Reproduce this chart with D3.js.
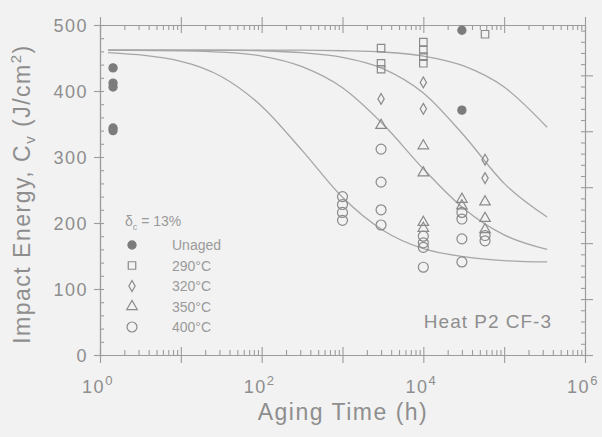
<!DOCTYPE html>
<html>
<head>
<meta charset="utf-8">
<script src="https://cdn.jsdelivr.net/npm/d3@7"></script>
<style>
  html, body { margin: 0; padding: 0; background: #f2f2f2; }
  svg { display: block; font-family: "Liberation Sans", Arial, sans-serif; }
</style>
</head>
<body>
<svg id="chart" width="602" height="437"></svg>
<script>
// Charpy impact energy of Heat P2 (CF-3) versus aging time at four temperatures.

// Measured points: aging time (h) and impact energy (J/cm²)
const unagedT = [1.45, 1.45, 1.45, 1.45, 1.45, 30000, 30000];
const unagedE = [435, 412, 406, 344, 340, 492, 371];
const aged290T = [3000, 3000, 3000, 10000, 10000, 10000, 10000, 58000];
const aged290E = [465, 442, 433, 474, 462, 452, 442, 486];
const aged320T = [3000, 10000, 10000, 58000, 58000];
const aged320E = [388, 413, 373, 296, 268];
const aged350T = [3000, 10000, 10000, 10000, 10000, 30000, 30000, 58000, 58000, 58000];
const aged350E = [348, 317, 276, 201, 192, 236, 226, 232, 207, 190];
const aged400T = [1000, 1000, 1000, 1000, 3000, 3000, 3000, 3000, 10000, 10000, 10000, 10000,
                  30000, 30000, 30000, 30000, 58000, 58000];
const aged400E = [240, 228, 216, 204, 312, 262, 220, 197, 180, 170, 163, 133,
                  216, 206, 176, 141, 181, 173];

// Fitted trend curves, sampled along the time axis
const curveT = [1.26, 10, 31.6, 100, 316, 1000, 3160, 10000, 31600, 100000, 340000];
const curve290 = [462, 462, 462, 462, 462, 461, 459, 453, 438, 406, 345];
const curve320 = [462, 462, 462, 461, 458, 451, 434, 397, 333, 260, 209];
const curve350 = [462, 461, 459, 453, 437, 405, 350, 282, 222, 182, 160];
const curve400 = [458, 445, 422, 377, 310, 239, 189, 161, 149, 143, 141];

// Axis ticks
const yMajor = [0, 100, 200, 300, 400, 500];
const xLabelPowers = [0, 2, 4, 6];
const legendLabels = ["Unaged", "290°C", "320°C", "350°C", "400°C"];

const svg = d3.select("#chart");
const W = 602, H = 437;
const ink = "#8e8e8e", lineInk = "#9c9c9c";

svg.append("rect").attr("width", W).attr("height", H).attr("fill", "#f2f2f2");

const x = d3.scaleLog().domain([1, 1e6]).range([100, 585]);
const y = d3.scaleLinear().domain([0, 500]).range([355, 25]);
// right axis in ft·lb (Charpy specimen area 0.8 cm²)
const yR = d3.scaleLinear().domain([0, 500 * 0.8 / 1.356]).range([355, 25]);

const decades = d3.range(0, 7).map(p => Math.pow(10, p));
const minorX = [];
for (let p = 0; p < 6; p++) for (let m = 2; m <= 9; m++) minorX.push(m * Math.pow(10, p));
const minorY = d3.range(0, 501, 20).filter(v => v % 100 !== 0);

function styleAxis(g) {
  g.selectAll("path").attr("stroke", lineInk).attr("stroke-width", 1.1);
  g.selectAll("line").attr("stroke", lineInk).attr("stroke-width", 1.1);
  g.selectAll("text").remove();
}

// frame lines + ticks
const bottomMinor = svg.append("g").attr("transform", "translate(0,355)")
  .call(d3.axisBottom(x).tickValues(minorX).tickSizeInner(-5).tickSizeOuter(0)); styleAxis(bottomMinor);
const bottomMajor = svg.append("g").attr("transform", "translate(0,355)")
  .call(d3.axisBottom(x).tickValues(decades).tickSizeInner(8).tickSizeOuter(0)); styleAxis(bottomMajor);
const bottomMajorIn = svg.append("g").attr("transform", "translate(0,355)")
  .call(d3.axisBottom(x).tickValues(decades).tickSizeInner(-8).tickSizeOuter(0)); styleAxis(bottomMajorIn);

const topMinor = svg.append("g").attr("transform", "translate(0,25)")
  .call(d3.axisTop(x).tickValues(minorX).tickSizeInner(-5).tickSizeOuter(0)); styleAxis(topMinor);
const topMajor = svg.append("g").attr("transform", "translate(0,25)")
  .call(d3.axisTop(x).tickValues(decades).tickSizeInner(8).tickSizeOuter(0)); styleAxis(topMajor);
const topMajorIn = svg.append("g").attr("transform", "translate(0,25)")
  .call(d3.axisTop(x).tickValues(decades).tickSizeInner(-8).tickSizeOuter(0)); styleAxis(topMajorIn);

const leftMinor = svg.append("g").attr("transform", "translate(100,0)")
  .call(d3.axisLeft(y).tickValues(minorY).tickSizeInner(-4).tickSizeOuter(0)); styleAxis(leftMinor);
const leftMajor = svg.append("g").attr("transform", "translate(100,0)")
  .call(d3.axisLeft(y).tickValues(yMajor).tickSizeInner(6).tickSizeOuter(0)); styleAxis(leftMajor);
const leftMajorIn = svg.append("g").attr("transform", "translate(100,0)")
  .call(d3.axisLeft(y).tickValues(yMajor).tickSizeInner(-4).tickSizeOuter(0)); styleAxis(leftMajorIn);

const rightMinor = svg.append("g").attr("transform", "translate(585,0)")
  .call(d3.axisRight(yR).tickValues(d3.range(0, 291, 10)).tickSizeInner(-4).tickSizeOuter(0)); styleAxis(rightMinor);
const rightMajor = svg.append("g").attr("transform", "translate(585,0)")
  .call(d3.axisRight(yR).tickValues(d3.range(0, 291, 50)).tickSizeInner(8).tickSizeOuter(0)); styleAxis(rightMajor);

// y tick labels
svg.append("g").selectAll("text").data(yMajor).join("text")
  .attr("x", 88).attr("y", d => y(d) + 6.5)
  .attr("text-anchor", "end").attr("fill", ink)
  .attr("font-size", 18).attr("letter-spacing", 1.5)
  .text(d => d);

// x tick labels 10^n
const xl = svg.append("g").selectAll("text").data(xLabelPowers).join("text")
  .attr("x", d => x(Math.pow(10, d)) - 2).attr("y", 393)
  .attr("text-anchor", "middle").attr("fill", ink)
  .attr("font-size", 18).attr("letter-spacing", 1.5);
xl.append("tspan").text("10");
xl.append("tspan").attr("dy", -8).attr("font-size", 13).text(d => d);

// axis titles
svg.append("text").attr("x", 343).attr("y", 420).attr("text-anchor", "middle")
  .attr("fill", ink).attr("font-size", 23).attr("letter-spacing", 1.5)
  .text("Aging Time (h)");

const yt = svg.append("text").attr("transform", "translate(30,194) rotate(-90)")
  .attr("text-anchor", "middle").attr("fill", ink)
  .attr("font-size", 23).attr("letter-spacing", 1.5);
yt.append("tspan").text("Impact Energy, C");
yt.append("tspan").attr("font-size", 15).attr("dy", 5).text("v");
yt.append("tspan").attr("dy", -5).text(" (J/cm");
yt.append("tspan").attr("font-size", 15).attr("dy", -9).text("2");
yt.append("tspan").attr("dy", 9).text(")");

// trend curves
const line = d3.line().x(d => x(d[0])).y(d => y(d[1])).curve(d3.curveMonotoneX);
[curve290, curve320, curve350, curve400].forEach(c => {
  svg.append("path").datum(curveT.map((t, i) => [t, c[i]]))
    .attr("d", line).attr("fill", "none")
    .attr("stroke", "#a6a6a6").attr("stroke-width", 1.3);
});

// markers
const series = [
  { t: unagedT, e: unagedE, type: d3.symbolCircle, size: 52, fill: "#7c7c7c" },
  { t: aged290T, e: aged290E, type: d3.symbolSquare, size: 56, fill: "none" },
  { t: aged320T, e: aged320E, type: d3.symbolDiamond, size: 34, fill: "none" },
  { t: aged350T, e: aged350E, type: d3.symbolTriangle, size: 48, fill: "none" },
  { t: aged400T, e: aged400E, type: d3.symbolCircle, size: 78, fill: "none" }
];
series.forEach(s => {
  svg.append("g").selectAll("path").data(s.t.map((t, i) => [t, s.e[i]])).join("path")
    .attr("transform", d => `translate(${x(d[0])},${y(d[1])})`)
    .attr("d", d3.symbol().type(s.type).size(s.size))
    .attr("fill", s.fill)
    .attr("stroke", s.fill === "none" ? "#8a8a8a" : "#7c7c7c")
    .attr("stroke-width", 1.2);
});

// legend
const lg = svg.append("g");
const hdr = lg.append("text").attr("x", 125).attr("y", 226).attr("fill", "#9a9a9a").attr("font-size", 14);
hdr.append("tspan").text("δ");
hdr.append("tspan").attr("font-size", 9).attr("dy", 4).text("c");
hdr.append("tspan").attr("dy", -4).text(" = 13%");
series.forEach((s, i) => {
  const yy = 245 + i * 20.5;
  lg.append("path").attr("transform", `translate(132,${yy})`)
    .attr("d", d3.symbol().type(s.type).size(s.size))
    .attr("fill", s.fill).attr("stroke", s.fill === "none" ? "#8a8a8a" : "#7c7c7c")
    .attr("stroke-width", 1.2);
  lg.append("text").attr("x", 172).attr("y", yy + 5).attr("fill", "#9a9a9a")
    .attr("font-size", 14).text(legendLabels[i]);
});

svg.append("text").attr("x", 552).attr("y", 328).attr("text-anchor", "end")
  .attr("fill", ink).attr("font-size", 19).attr("letter-spacing", 1)
  .text("Heat P2 CF-3");
</script>
</body>
</html>
